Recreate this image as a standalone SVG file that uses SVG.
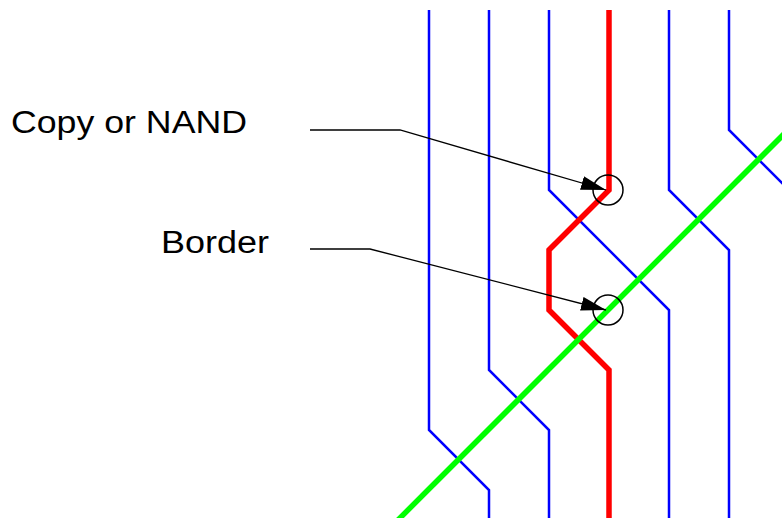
<svg xmlns="http://www.w3.org/2000/svg" width="782" height="518" viewBox="0 0 782 518">
  <style>
    .wire { fill: none; stroke: #0000ff; stroke-width: 2.5; }
    .signal { fill: none; stroke: #ff0000; stroke-width: 5.5; }
    .border { fill: none; stroke: #00ff00; stroke-width: 5.5; }
    .ring { fill: none; stroke: #000; stroke-width: 1.5; }
    .leader { fill: none; stroke: #000; stroke-width: 1.3; marker-end: url(#head); }
    .label { font-family: "Liberation Sans", Arial, sans-serif; font-size: 31px; fill: #000; }
  </style>
  <defs>
    <marker id="head" markerUnits="userSpaceOnUse" markerWidth="27" markerHeight="15" refX="25" refY="7" orient="auto">
      <path d="M0,0 L25,7 L0,14 z" fill="#000"/>
    </marker>
  </defs>

  <rect width="782" height="518" fill="#fff"/>

  <!-- blue wires -->
  <g id="wires">
    <polyline class="wire" points="429,10 429,430 489,490 489,518"/>
    <polyline class="wire" points="489,10 489,370 549,430 549,518"/>
    <polyline class="wire" points="549,10 549,190 669,310 669,518"/>
    <polyline class="wire" points="669,10 669,190 729,250 729,518"/>
    <polyline class="wire" points="729,10 729,130 790,191"/>
  </g>

  <!-- red signal path -->
  <g id="signal">
    <polyline class="signal" points="609,10 609,190 549,250 549,310 609,370 609,518"/>
  </g>

  <!-- green border diagonal -->
  <g id="border-line">
    <line class="border" x1="398" y1="520" x2="790" y2="128"/>
  </g>

  <!-- marked points -->
  <g id="mark-copy">
    <circle class="ring" cx="608" cy="190" r="15"/>
  </g>
  <g id="mark-border">
    <circle class="ring" cx="608" cy="310" r="15"/>
  </g>

  <!-- labels -->
  <g id="label-copy">
    <text class="label" x="11" y="133" textLength="236" lengthAdjust="spacingAndGlyphs">Copy or NAND</text>
  </g>
  <g id="label-border">
    <text class="label" x="161" y="253" textLength="108" lengthAdjust="spacingAndGlyphs">Border</text>
  </g>

  <!-- leader arrows -->
  <g id="connectors">
    <polyline class="leader" points="310,130 400,130 606,190"/>
    <polyline class="leader" points="310,249 370,249 606,310"/>
  </g>
</svg>
